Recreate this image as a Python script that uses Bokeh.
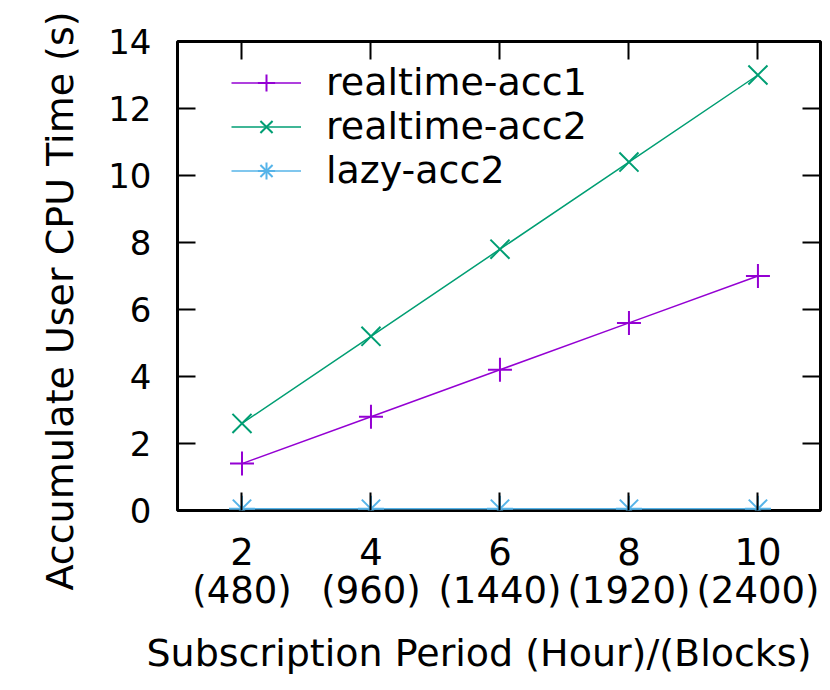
from bokeh.plotting import figure
from bokeh.models import LinearAxis, Title, Legend, LegendItem, FixedTicker, Range1d
from bokeh.embed import file_html
from bokeh.resources import INLINE

# ---- data ----
hours = [2, 4, 6, 8, 10]
blocks = [480, 960, 1440, 1920, 2400]
tick_labels = [f"{h}\n({b})" for h, b in zip(hours, blocks)]
realtime_acc1 = [1.4, 2.8, 4.2, 5.6, 7.0]
realtime_acc2 = [2.6, 5.2, 7.8, 10.4, 13.0]
lazy_acc2 = [0.05, 0.05, 0.05, 0.05, 0.05]
y_ticks = [0, 2, 4, 6, 8, 10, 12, 14]
series_names = ["realtime-acc1", "realtime-acc2", "lazy-acc2"]

FONT = "DejaVu Sans"
C1, C2, C3 = "#9400d3", "#009e73", "#56b4e9"

p = figure(frame_width=643, frame_height=469,
           x_range=Range1d(1, 10.97), y_range=Range1d(0, 14),
           output_backend="svg", toolbar_location=None,
           min_border_left=177, min_border_right=2,
           min_border_top=41, min_border_bottom=172)
p.xgrid.visible = False
p.ygrid.visible = False
p.outline_line_color = "black"
p.outline_line_width = 3
p.background_fill_color = "white"
p.border_fill_color = "white"


def style_axis(ax, ticks, font_size=None, standoff=0):
    ax.ticker = FixedTicker(ticks=ticks)
    ax.axis_line_color = None
    ax.major_tick_in = 18
    ax.major_tick_out = 0
    ax.major_tick_line_width = 2
    ax.major_tick_line_color = "black"
    ax.minor_tick_line_color = None
    ax.major_label_text_font = FONT
    ax.major_label_text_color = "black"
    if font_size:
        ax.major_label_text_font_size = font_size
        ax.major_label_standoff = standoff
    else:
        ax.major_label_text_font_size = "0px"
        ax.major_label_text_color = None
        ax.major_label_standoff = 0


xa = p.xaxis[0]
style_axis(xa, hours, "37px", 20)
xa.major_label_overrides = {h: lab for h, lab in zip(hours, tick_labels)}
xa.major_label_text_line_height = 0.9
ya = p.yaxis[0]
style_axis(ya, y_ticks, "34px", 26)

top_ax = LinearAxis()
style_axis(top_ax, hours)
p.add_layout(top_ax, "above")
right_ax = LinearAxis()
style_axis(right_ax, y_ticks)
p.add_layout(right_ax, "right")

# ---- series ----
l1 = p.line(hours, realtime_acc1, line_color=C1, line_width=1.5)
m1 = p.scatter(hours, realtime_acc1, marker="cross", size=24, line_color=C1, line_width=2)
l2 = p.line(hours, realtime_acc2, line_color=C2, line_width=1.5)
m2 = p.scatter(hours, realtime_acc2, marker="x", size=27, line_color=C2, line_width=2)
l3 = p.line(hours, lazy_acc2, line_color=C3, line_width=1.5)
m3a = p.scatter(hours, lazy_acc2, marker="cross", size=26, line_color=C3, line_width=2)
m3b = p.scatter(hours, lazy_acc2, marker="x", size=26, line_color=C3, line_width=2)

legend = Legend(items=[
    LegendItem(label=series_names[0], renderers=[l1, m1]),
    LegendItem(label=series_names[1], renderers=[l2, m2]),
    LegendItem(label=series_names[2], renderers=[l3, m3a, m3b]),
], location=(54, 318))
legend.glyph_width = 70
legend.glyph_height = 43
legend.label_height = 43
legend.label_standoff = 25
legend.spacing = 0
legend.padding = 0
legend.margin = 0
legend.border_line_color = None
legend.background_fill_alpha = 0
legend.label_text_font = FONT
legend.label_text_font_size = "38px"
legend.label_text_color = "black"
p.add_layout(legend)

xt = Title(text="Subscription Period (Hour)/(Blocks)", align="left", offset=-31,
           text_font=FONT, text_font_size="38px", text_font_style="normal",
           text_color="black", standoff=26)
p.add_layout(xt, "below")
yt = Title(text="Accumulate User CPU Time (s)", align="left", offset=-80,
           text_font=FONT, text_font_size="38px", text_font_style="normal",
           text_color="black", standoff=47)
p.add_layout(yt, "left")

open("out.html", "w").write(file_html(p, INLINE))
